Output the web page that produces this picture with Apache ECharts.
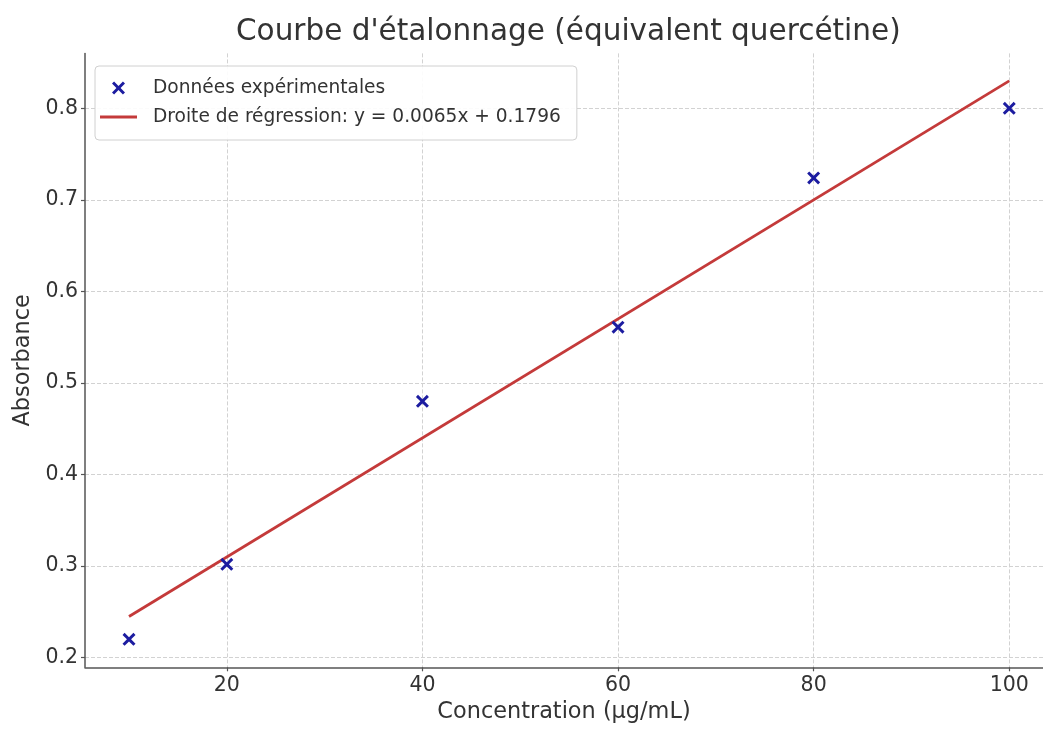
<!DOCTYPE html>
<html>
<head>
<meta charset="utf-8">
<script src="https://cdn.jsdelivr.net/npm/echarts@6/dist/echarts.min.js"></script>
<style>
html,body{margin:0;padding:0;background:#fff;}
#chart{width:1043px;height:733px;}
</style>
</head>
<body>
<div id="chart"></div>
<script>
// ---- data ----
var concentrations = [10, 20, 40, 60, 80, 100];
var absorbances = [0.220, 0.302, 0.480, 0.561, 0.724, 0.800];
var regressionX = [10, 100];
var regressionY = [0.245, 0.830];
var xTicks = [20, 40, 60, 80, 100];
var yTicks = [0.2, 0.3, 0.4, 0.5, 0.6, 0.7, 0.8];
var titleText = "Courbe d'étalonnage (équivalent quercétine)";
var xName = 'Concentration (µg/mL)';
var yName = 'Absorbance';
var scatterName = 'Données expérimentales';
var lineName = 'Droite de régression: y = 0.0065x + 0.1796';

var FONT = 'DejaVu Sans';
var xMark = 'path://M0,1.6 L1.6,0 L5,3.4 L8.4,0 L10,1.6 L6.6,5 L10,8.4 L8.4,10 L5,6.6 L1.6,10 L0,8.4 L3.4,5 Z';
var lineIcon = 'path://M0,0 L37,0 L37,3 L0,3 Z';

var scatterData = concentrations.map(function (c, i) { return [c, absorbances[i]]; });
var lineData = regressionX.map(function (c, i) { return [c, regressionY[i]]; });

var chart = echarts.init(document.getElementById('chart'), null, {renderer: 'canvas'});
var axisColor = '#555';
var gridLine = {show: true, lineStyle: {color: '#d2d2d2', width: 1, type: [4, 2]}};

chart.setOption({
  backgroundColor: '#fff',
  animation: false,
  title: {
    text: titleText,
    left: 231,
    top: 12,
    textStyle: {fontFamily: FONT, fontSize: 29.5, fontWeight: 'normal', color: '#333'}
  },
  legend: {
    orient: 'vertical',
    left: 95,
    top: 66,
    padding: [12, 16, 13, 5],
    itemGap: 9,
    itemWidth: 37,
    itemHeight: 13,
    symbolKeepAspect: true,
    backgroundColor: 'rgba(255,255,255,0.9)',
    borderColor: '#d0d0d0',
    borderWidth: 1,
    borderRadius: 4,
    textStyle: {fontFamily: FONT, fontSize: 18.6, color: '#333', lineHeight: 20, padding: [0, 0, 0, 11]},
    data: [
      {name: scatterName, icon: xMark},
      {name: lineName, icon: lineIcon}
    ]
  },
  grid: {left: 85, right: 0, top: 53.4, bottom: 65.7, containLabel: false},
  xAxis: {
    type: 'value',
    min: 5.5,
    max: 103.45,
    name: xName,
    nameLocation: 'middle',
    nameGap: 32,
    nameTextStyle: {fontFamily: FONT, fontSize: 22.4, color: '#333'},
    axisLine: {show: true, lineStyle: {color: axisColor, width: 1.5}},
    axisTick: {show: true, length: 4, inside: false, lineStyle: {color: axisColor, width: 1.2}, customValues: xTicks},
    axisLabel: {fontFamily: FONT, fontSize: 20.5, color: '#333', margin: 8, customValues: xTicks},
    splitLine: gridLine
  },
  yAxis: {
    type: 'value',
    min: 0.1895,
    max: 0.86,
    name: yName,
    nameLocation: 'middle',
    nameRotate: 90,
    nameGap: 51,
    nameTextStyle: {fontFamily: FONT, fontSize: 22.4, color: '#333'},
    axisLine: {show: true, lineStyle: {color: axisColor, width: 1.5}},
    axisTick: {show: true, length: 4, inside: false, lineStyle: {color: axisColor, width: 1.2}, customValues: yTicks},
    axisLabel: {fontFamily: FONT, fontSize: 20.5, color: '#333', margin: 7, customValues: yTicks,
      formatter: function (v) { return v.toFixed(1); }},
    splitLine: gridLine
  },
  series: [
    {
      name: scatterName,
      type: 'scatter',
      data: scatterData,
      symbol: xMark,
      symbolSize: 13,
      itemStyle: {color: '#1c1ca0', opacity: 1},
      z: 3
    },
    {
      name: lineName,
      type: 'line',
      data: lineData,
      symbol: 'none',
      lineStyle: {color: '#c43a3a', width: 2.8},
      itemStyle: {color: '#c43a3a'},
      z: 2
    }
  ]
});
</script>
</body>
</html>
